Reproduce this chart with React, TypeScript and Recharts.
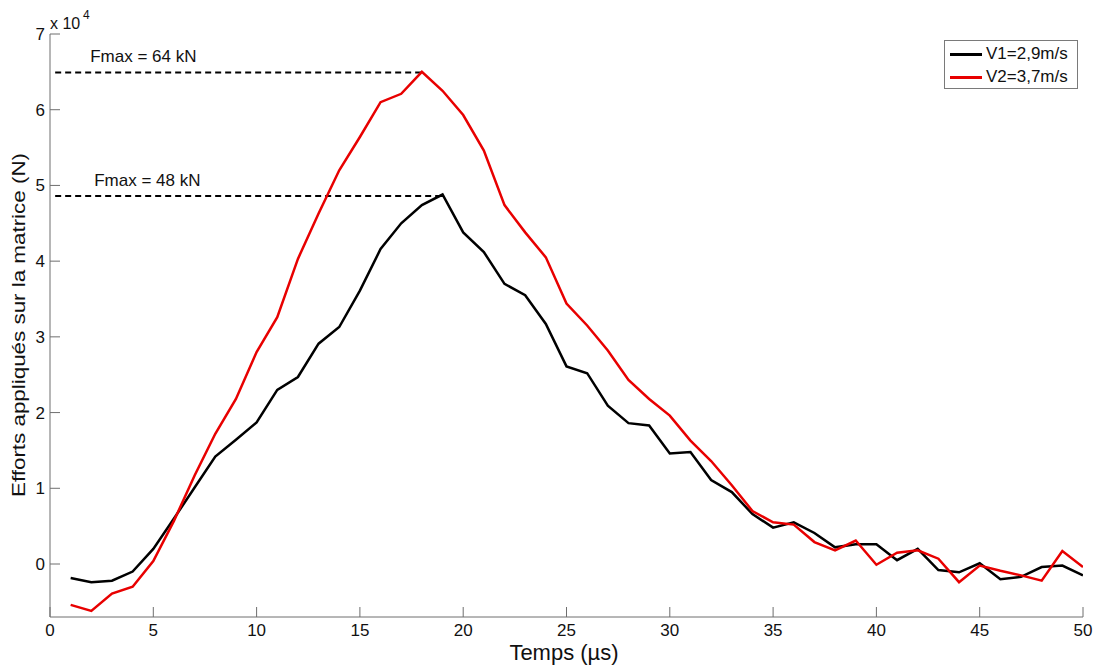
import React from 'react';
import { LineChart, Line, XAxis, YAxis, ReferenceLine } from 'recharts';

const time = Array.from({ length: 50 }, (_, i) => i + 1);
const v1 = [
  -1850, -2400, -2200, -1000, 2000, 6000, 10100, 14200, 16400, 18700,
  23000, 24700, 29100, 31300, 36100, 41600, 45000, 47400, 48800, 43800,
  41200, 37000, 35500, 31700, 26100, 25200, 20900, 18600, 18300, 14600,
  14800, 11100, 9500, 6600, 4800, 5500, 4100, 2200, 2600, 2600,
  500, 2000, -800, -1100, 100, -2000, -1700, -400, -200, -1500,
];
const v2 = [
  -5400, -6200, -3900, -3000, 400, 5700, 11700, 17200, 21800, 28000,
  32600, 40300, 46300, 52000, 56400, 61000, 62100, 65000, 62500, 59300,
  54600, 47400, 43800, 40500, 34400, 31500, 28200, 24300, 21800, 19600,
  16300, 13600, 10400, 7000, 5500, 5200, 2900, 1800, 3100, -100,
  1500, 1800, 700, -2400, -200, -900, -1500, -2200, 1700, -400,
];
const xTicks = [0, 5, 10, 15, 20, 25, 30, 35, 40, 45, 50];
const yTicks = [0, 10000, 20000, 30000, 40000, 50000, 60000, 70000];
const seriesNames = ['V1=2,9m/s', 'V2=3,7m/s'];
const seriesColors = ['#000000', '#e80000'];
const fmax1 = { value: 64900, xEnd: 18, label: 'Fmax = 64 kN' };
const fmax2 = { value: 48600, xEnd: 19, label: 'Fmax = 48 kN' };

const data = time.map((t, i) => ({ t, v1: v1[i], v2: v2[i] }));

const FONT = '"Liberation Sans", Arial, Helvetica, sans-serif';
const AXIS = '#6e6e6e';

const XTick = (props: any) => {
  const { x, y, payload } = props;
  return (
    <g>
      <line x1={x} x2={x} y1={y - 8} y2={y - 18} stroke={AXIS} strokeWidth={1} />
      <text x={x} y={y + 11} textAnchor="middle" fontSize={17} fontFamily={FONT} fill="#111">
        {payload.value}
      </text>
    </g>
  );
};

const YTick = (props: any) => {
  const { x, y, payload } = props;
  return (
    <g>
      <line x1={x + 5} x2={x + 15} y1={y} y2={y} stroke={AXIS} strokeWidth={1} />
      <text x={x} y={y + 6} textAnchor="end" fontSize={17} fontFamily={FONT} fill="#111">
        {payload.value / 10000}
      </text>
    </g>
  );
};

const makeLabel = (text: string, dx: number, dy: number) => (props: any) => {
  const vb = props.viewBox || {};
  return (
    <text x={vb.x + dx} y={vb.y + dy} fontSize={17} fontFamily={FONT} fill="#111">
      {text}
    </text>
  );
};

export default function App() {
  return (
    <div style={{ position: 'absolute', left: 0, top: 0, width: 1096, height: 666, background: '#fff' }}>
      <LineChart width={1096} height={666} data={data} margin={{ top: 34, right: 13, bottom: 0, left: 0 }}>
        <XAxis
          dataKey="t"
          type="number"
          domain={[0, 50]}
          ticks={xTicks}
          interval={0}
          allowDataOverflow
          height={49}
          stroke={AXIS}
          tickLine={false}
          tickSize={0}
          tickMargin={8}
          tick={<XTick />}
        />
        <YAxis
          type="number"
          domain={[-7000, 70000]}
          ticks={yTicks}
          interval={0}
          allowDataOverflow
          width={50}
          stroke={AXIS}
          tickLine={false}
          tickSize={0}
          tickMargin={5}
          tick={<YTick />}
        />
        <ReferenceLine
          segment={[{ x: 0.25, y: fmax1.value }, { x: fmax1.xEnd, y: fmax1.value }]}
          stroke="#000"
          strokeWidth={2}
          strokeDasharray="6 4"
          label={makeLabel(fmax1.label, 35, -11)}
        />
        <ReferenceLine
          segment={[{ x: 0.25, y: fmax2.value }, { x: fmax2.xEnd, y: fmax2.value }]}
          stroke="#000"
          strokeWidth={2}
          strokeDasharray="6 4"
          label={makeLabel(fmax2.label, 39, -10)}
        />
        <Line
          type="linear"
          dataKey="v1"
          name={seriesNames[0]}
          stroke={seriesColors[0]}
          strokeWidth={2.5}
          dot={false}
          isAnimationActive={false}
        />
        <Line
          type="linear"
          dataKey="v2"
          name={seriesNames[1]}
          stroke={seriesColors[1]}
          strokeWidth={2.5}
          dot={false}
          isAnimationActive={false}
        />
        <text x={50} y={29} fontSize={16} fontFamily={FONT} fill="#111">x 10</text>
        <text x={83} y={19} fontSize={12} fontFamily={FONT} fill="#111">4</text>
        <text x={564} y={660} textAnchor="middle" fontSize={22} fontFamily={FONT} fill="#111">
          Temps (µs)
        </text>
        <text
          x={0}
          y={0}
          transform="translate(25,325) rotate(-90)"
          textAnchor="middle"
          fontSize={19}
          fontFamily={FONT}
          fill="#111"
          textLength={344}
          lengthAdjust="spacingAndGlyphs"
        >
          Efforts appliqués sur la matrice (N)
        </text>
      </LineChart>
      <div
        style={{
          position: 'absolute',
          left: 944,
          top: 40,
          width: 132,
          height: 47,
          border: '1px solid #7a7a7a',
          background: '#fff',
          fontFamily: FONT,
          fontSize: 17,
          boxSizing: 'content-box',
        }}
      >
        {seriesNames.map((n, i) => (
          <div
            key={n}
            style={{ position: 'absolute', left: 5, top: 2 + i * 23, height: 22, display: 'flex', alignItems: 'center' }}
          >
            <span style={{ display: 'inline-block', width: 32, height: 3, background: seriesColors[i], marginRight: 4 }} />
            <span style={{ color: '#111' }}>{n}</span>
          </div>
        ))}
      </div>
    </div>
  );
}
